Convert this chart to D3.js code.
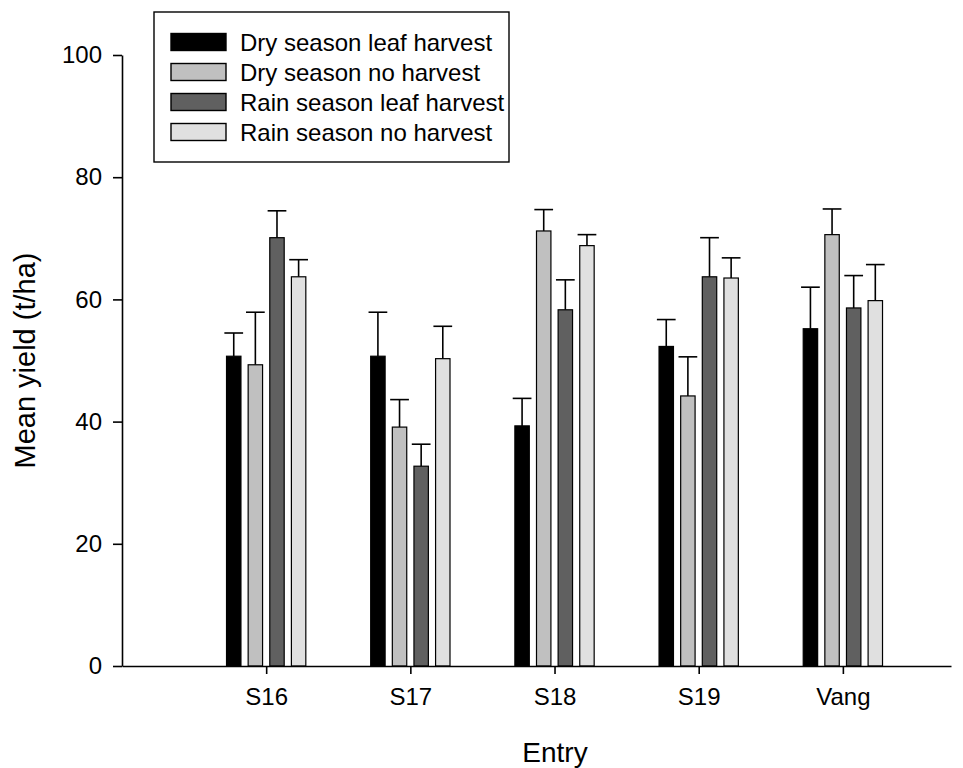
<!DOCTYPE html>
<html>
<head>
<meta charset="utf-8">
<script src="https://cdn.jsdelivr.net/npm/d3@7"></script>
<style>
  html, body { margin: 0; padding: 0; background: #fff; }
  svg { display: block; font-family: "Liberation Sans", Arial, Helvetica, sans-serif; }
</style>
</head>
<body>
<div id="chart"></div>
<script>
"use strict";

// Entries along the x axis
const ENTRIES = ["S16", "S17", "S18", "S19", "Vang"];

// Series labels and fills
const SERIES_NAMES = [
  "Dry season leaf harvest",
  "Dry season no harvest",
  "Rain season leaf harvest",
  "Rain season no harvest"
];
const SERIES_FILLS = ["#000000", "#c0c0c0", "#606060", "#e0e0e0"];

// Mean yield (t/ha) per entry, one array per series
const dryLeaf  = [50.7, 50.7, 39.3, 52.3, 55.2];
const dryNo    = [49.3, 39.1, 71.2, 44.2, 70.6];
const rainLeaf = [70.1, 32.7, 58.3, 63.7, 58.6];
const rainNo   = [63.7, 50.3, 68.8, 63.5, 59.8];

// Upper error (t/ha)
const dryLeafErr  = [3.8, 7.2, 4.5, 4.4, 6.8];
const dryNoErr    = [8.6, 4.5, 3.5, 6.4, 4.2];
const rainLeafErr = [4.4, 3.6, 4.9, 6.4, 5.3];
const rainNoErr   = [2.8, 5.3, 1.8, 3.3, 5.9];

const Y_TICKS = [0, 20, 40, 60, 80, 100];

const VALUES = [dryLeaf, dryNo, rainLeaf, rainNo];
const ERRORS = [dryLeafErr, dryNoErr, rainLeafErr, rainNoErr];

const W = 963, H = 768;
const svg = d3.select("#chart").append("svg")
  .attr("width", W).attr("height", H);

// entries sit at positions 1..5 on a linear axis
const x = d3.scaleLinear().domain([0, 5.75]).range([122, 951]);
const y = d3.scaleLinear().domain([0, 100]).range([666, 55]);

const offsets = [-0.225, -0.075, 0.075, 0.225];
const barW = 0.1;
const capW = 0.13;

// Bars + error bars
VALUES.forEach((vals, si) => {
  const g = svg.append("g");
  vals.forEach((v, i) => {
    const cx = i + 1 + offsets[si];
    const top = v + ERRORS[si][i];
    g.append("line")
      .attr("x1", x(cx)).attr("x2", x(cx))
      .attr("y1", y(v)).attr("y2", y(top))
      .attr("stroke", "#000").attr("stroke-width", 1.6);
    g.append("line")
      .attr("x1", x(cx - capW / 2)).attr("x2", x(cx + capW / 2))
      .attr("y1", y(top)).attr("y2", y(top))
      .attr("stroke", "#000").attr("stroke-width", 1.6);
    g.append("rect")
      .attr("x", x(cx - barW / 2))
      .attr("y", y(v))
      .attr("width", x(cx + barW / 2) - x(cx - barW / 2))
      .attr("height", y(0) - y(v))
      .attr("fill", SERIES_FILLS[si])
      .attr("stroke", "#000")
      .attr("stroke-width", 1.2);
  });
});

// Axes
const yAxis = svg.append("g")
  .attr("transform", `translate(${x(0)},0)`)
  .call(d3.axisLeft(y).tickValues(Y_TICKS).tickSize(9).tickPadding(11).tickSizeOuter(0));

const xAxis = svg.append("g")
  .attr("transform", `translate(0,${y(0)})`)
  .call(d3.axisBottom(x).tickValues([1, 2, 3, 4, 5])
    .tickFormat((d) => ENTRIES[d - 1]).tickSize(8).tickPadding(14).tickSizeOuter(0));

[yAxis, xAxis].forEach((ax) => {
  ax.select(".domain").attr("stroke", "#000").attr("stroke-width", 1.6);
  ax.selectAll(".tick line").attr("stroke", "#000").attr("stroke-width", 1.6);
  ax.selectAll(".tick text")
    .attr("fill", "#000")
    .style("font-size", "24px")
    .style("font-family", "'Liberation Sans', Arial, sans-serif");
});

// Axis titles
svg.append("text")
  .attr("transform", `translate(35,${(y(0) + y(100)) / 2}) rotate(-90)`)
  .attr("text-anchor", "middle")
  .attr("font-size", 29)
  .text("Mean yield (t/ha)");

svg.append("text")
  .attr("x", 555).attr("y", 762)
  .attr("text-anchor", "middle")
  .attr("font-size", 28)
  .text("Entry");

// Legend
const legend = svg.append("g");
legend.append("rect")
  .attr("x", 154).attr("y", 12)
  .attr("width", 355).attr("height", 150)
  .attr("fill", "#fff").attr("stroke", "#000").attr("stroke-width", 1.4);

SERIES_NAMES.forEach((name, i) => {
  const cy = 42 + i * 30;
  legend.append("rect")
    .attr("x", 171).attr("y", cy - 8.5)
    .attr("width", 55).attr("height", 17)
    .attr("fill", SERIES_FILLS[i])
    .attr("stroke", "#000").attr("stroke-width", 1.4);
  legend.append("text")
    .attr("x", 240).attr("y", cy + 8.5)
    .attr("font-size", 24)
    .text(name);
});
</script>
</body>
</html>
